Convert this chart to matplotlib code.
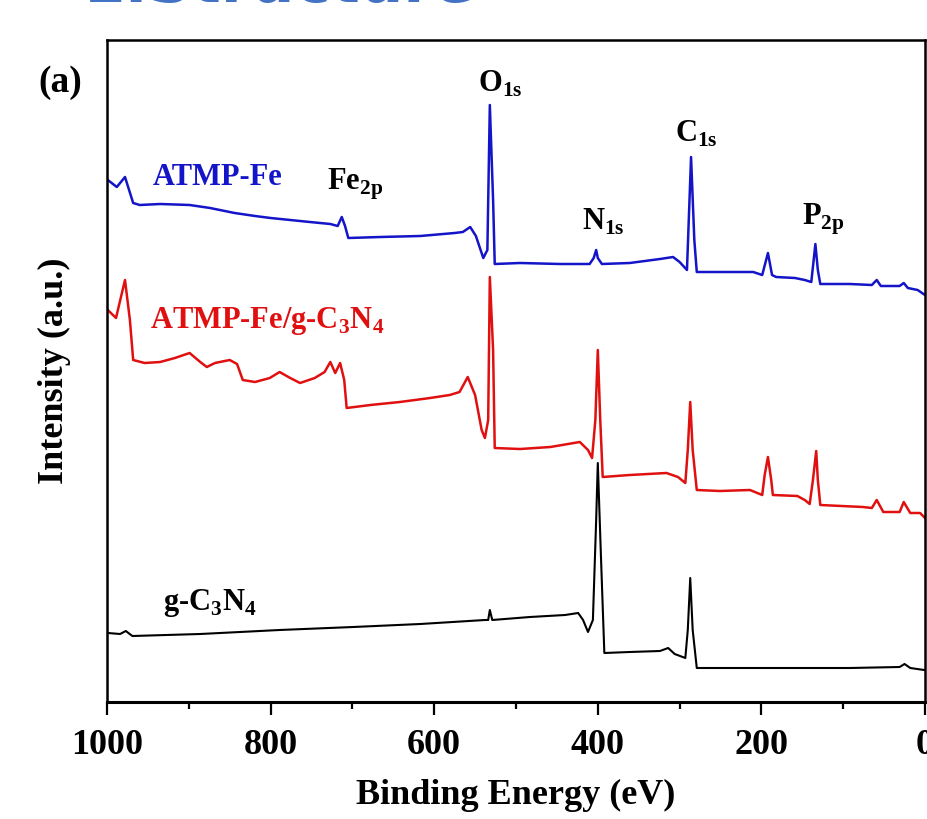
import numpy as np
import matplotlib
matplotlib.use("Agg")
import matplotlib.pyplot as plt

# XPS survey spectra (intensity in a.u.)
E_FE = [999, 988, 978, 968, 960, 935, 899, 874, 844, 819, 800, 776, 752, 727, 718, 713, 709, 705,
        666, 617, 575, 565, 556, 549, 540, 535, 532, 528, 526, 495, 446, 410, 405, 402, 400, 395,
        361, 324, 308, 300, 291, 286, 282, 279, 251, 210, 199, 192, 187, 182, 159, 147, 139, 134,
        131, 128, 92, 65, 59, 54, 31, 26, 21, 9, 0]
I_FE = [522, 515, 525, 499, 497, 498, 497, 494, 489, 486, 484, 482, 480, 478, 476, 485, 476, 464,
        465, 466, 469, 470, 475, 466, 444, 452, 597, 502, 438, 439, 438, 438, 444, 452, 444, 438,
        439, 443, 445, 440, 432, 545, 462, 430, 430, 430, 427, 449, 427, 425, 424, 422, 420, 458,
        432, 418, 418, 417, 422, 416, 416, 419, 414, 412, 407]

E_FECN = [999, 989, 978, 972, 968, 954, 935, 917, 899, 886, 878, 868, 850, 841, 834, 819, 801, 789,
          776, 764, 746, 734, 727, 721, 715, 710, 707, 678, 642, 605, 581, 569, 559, 550, 542, 538,
          534, 532, 528, 526, 495, 458, 422, 412, 407, 403, 400, 397, 394, 361, 316, 302, 293, 290,
          287, 284, 279, 251, 214, 199, 196, 192, 188, 186, 156, 147, 141, 137, 133, 131, 128, 76,
          65, 59, 51, 31, 26, 18, 6, 0]
I_FECN = [392, 384, 422, 382, 342, 339, 340, 344, 349, 340, 335, 339, 342, 338, 322, 320, 324, 330,
          324, 319, 324, 330, 340, 329, 339, 322, 294, 297, 300, 304, 307, 310, 325, 307, 272, 264,
          282, 425, 352, 254, 253, 255, 260, 252, 244, 282, 352, 282, 225, 227, 229, 225, 219, 252,
          300, 252, 212, 211, 212, 207, 227, 245, 222, 207, 206, 202, 198, 222, 251, 222, 197, 195,
          194, 202, 190, 190, 200, 189, 189, 184]

E_CN = [999, 984, 977, 969, 886, 789, 699, 617, 538, 534, 532, 529, 483, 440, 424, 418, 412, 406,
        402, 400, 396, 392, 361, 324, 314, 306, 293, 290, 287, 284, 279, 214, 92, 31, 25, 18, 1]
I_CN = [69, 68, 71, 66, 68, 72, 75, 78, 82, 82, 92, 82, 85, 87, 89, 82, 70, 82,
        182, 239, 142, 49, 50, 51, 54, 48, 44, 72, 124, 72, 34, 34, 34, 35, 38, 34, 32]

plt.rcParams["font.family"] = ["Liberation Serif", "DejaVu Serif"]
plt.rcParams["font.weight"] = "bold"
plt.rcParams["mathtext.fontset"] = "custom"
plt.rcParams["mathtext.rm"] = "Liberation Serif:bold"
plt.rcParams["mathtext.bf"] = "Liberation Serif:bold"

fig = plt.figure(figsize=(9.28, 8.19), dpi=100)
ax = fig.add_axes([107 / 928, 1 - 702 / 819, 818 / 928, 662 / 819])

ax.plot(E_FE, I_FE, color="#1414c8", lw=1.8)
ax.plot(E_FECN, I_FECN, color="#e01010", lw=1.8)
ax.plot(E_CN, I_CN, color="black", lw=1.5)

ax.set_xlim(1000, 0)
ax.set_ylim(0, 662)
ax.set_yticks([])
ax.set_xticks([1000, 800, 600, 400, 200, 0])
ax.set_xticks(np.arange(900, 0, -200), minor=True)
ax.tick_params(axis="x", which="major", length=9.5, width=1.6, direction="out", labelsize=26, pad=10)
ax.tick_params(axis="x", which="minor", length=5, width=1.6, direction="out")
for s in ax.spines.values():
    s.set_linewidth(1.8)
ax.spines["bottom"].set_linewidth(2.2)

ax.set_xlabel("Binding Energy (eV)", fontsize=26, fontweight="bold", labelpad=12)
ax.set_ylabel("Intensity (a.u.)", fontsize=26, fontweight="bold", labelpad=26)

ax.text(944, 517, "ATMP-Fe", color="#1414c8", fontsize=22, fontweight="bold", va="baseline")
ax.text(947, 374, r"ATMP-Fe/g-C$_\mathbf{3}$N$_\mathbf{4}$", color="#e01010", fontsize=22,
        fontweight="bold", va="baseline")
ax.text(932, 92, r"g-C$_\mathbf{3}$N$_\mathbf{4}$", color="black", fontsize=22,
        fontweight="bold", va="baseline")

ax.text(731, 512, r"Fe$_\mathbf{2p}$", fontsize=22, fontweight="bold", va="baseline")
ax.text(546, 610, r"O$_\mathbf{1s}$", fontsize=22, fontweight="bold", va="baseline")
ax.text(419, 472, r"N$_\mathbf{1s}$", fontsize=22, fontweight="bold", va="baseline")
ax.text(306, 560, r"C$_\mathbf{1s}$", fontsize=22, fontweight="bold", va="baseline")
ax.text(150, 477, r"P$_\mathbf{2p}$", fontsize=22, fontweight="bold", va="baseline")

fig.text(60 / 928, 1 - 82 / 819, "(a)", fontsize=27, fontweight="bold", ha="center", va="center")

# slide heading, mostly cut off at the top edge
fig.text(82 / 928, 1 - 2 / 819, "1.Structure", color="#4472c4", fontsize=44,
         fontweight="bold", family="DejaVu Sans", va="baseline")

fig.savefig("out.png", dpi=100)
